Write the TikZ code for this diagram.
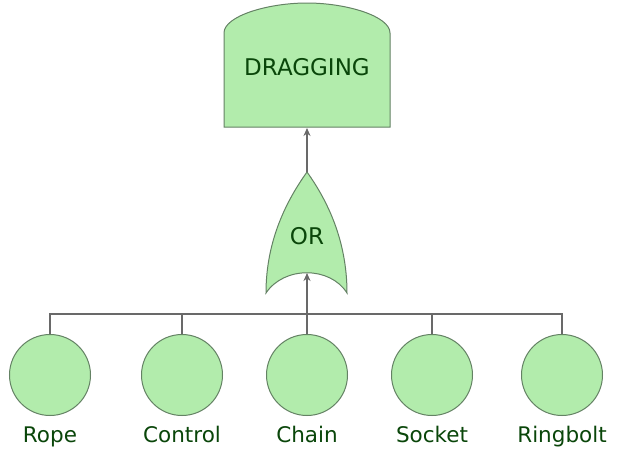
\documentclass[tikz,border=0pt]{standalone}
\usepackage{fontspec}
\setmainfont{DejaVu Sans}
\usetikzlibrary{arrows.meta}
\definecolor{gatefill}{RGB}{178,236,172}
\definecolor{gateline}{RGB}{100,130,100}
\definecolor{gatetext}{RGB}{10,70,10}
\definecolor{wire}{RGB}{105,105,105}
\tikzset{
    event/.style={circle,draw=gateline,line width=1pt,fill=gatefill,minimum size=81pt,inner sep=0pt},
    evlabel/.style={text=gatetext,anchor=base,font=\fontsize{21.5}{24}\selectfont},
    wireline/.style={draw=wire,line width=1.3pt},
    feed/.style={wireline,-{Stealth[length=8pt,width=7pt]}}
}
\begin{document}
\begin{tikzpicture}[x=1pt,y=-1pt]
                \useasboundingbox[fill=white] (0,0) rectangle (630,469);
                % top event
                \draw[draw=gateline,line width=1pt,fill=gatefill] (224,127) -- (224,33)
                    .. controls (224,16) and (268,3) .. (307,3)
                    .. controls (346,3) and (390,16) .. (390,33) -- (390,127) -- cycle;
                \node[text=gatetext,font=\fontsize{23}{27}\selectfont] (dragging) at (307,67) {DRAGGING};
                \coordinate (topin) at (307,128);
                % or gate
                \draw[draw=gateline,line width=1pt,fill=gatefill] (307,172)
                    .. controls (287,200) and (266,240) .. (266,293)
                    .. controls (284,266) and (330,266) .. (347,293)
                    .. controls (347,240) and (327,200) .. (307,172) -- cycle;
                \node[text=gatetext,font=\fontsize{23}{27}\selectfont] (or) at (307,236) {OR};
                \coordinate (orout) at (307,172);
                \coordinate (orin) at (307,273);
                \draw[feed] (orout) -- (topin);
                % basic events
                \foreach \name/\x/\txt in {rope/50/Rope,control/182/Control,chain/307/Chain,socket/432/Socket,ringbolt/562/Ringbolt}{
                    \node[event] (\name) at (\x,375) {};
                    \node[evlabel] (\name-lbl) at (\x,442) {\txt};
                }
                \coordinate (bus) at (307,314);
                \draw[wireline] (rope.north) |- (bus) -| (ringbolt.north);
                \foreach \name in {control,chain,socket}{
                    \draw[wireline] (\name.north) -- (\name.north |- bus);
                }
                \draw[feed] (bus) -- (orin);
            \end{tikzpicture}
\end{document}
